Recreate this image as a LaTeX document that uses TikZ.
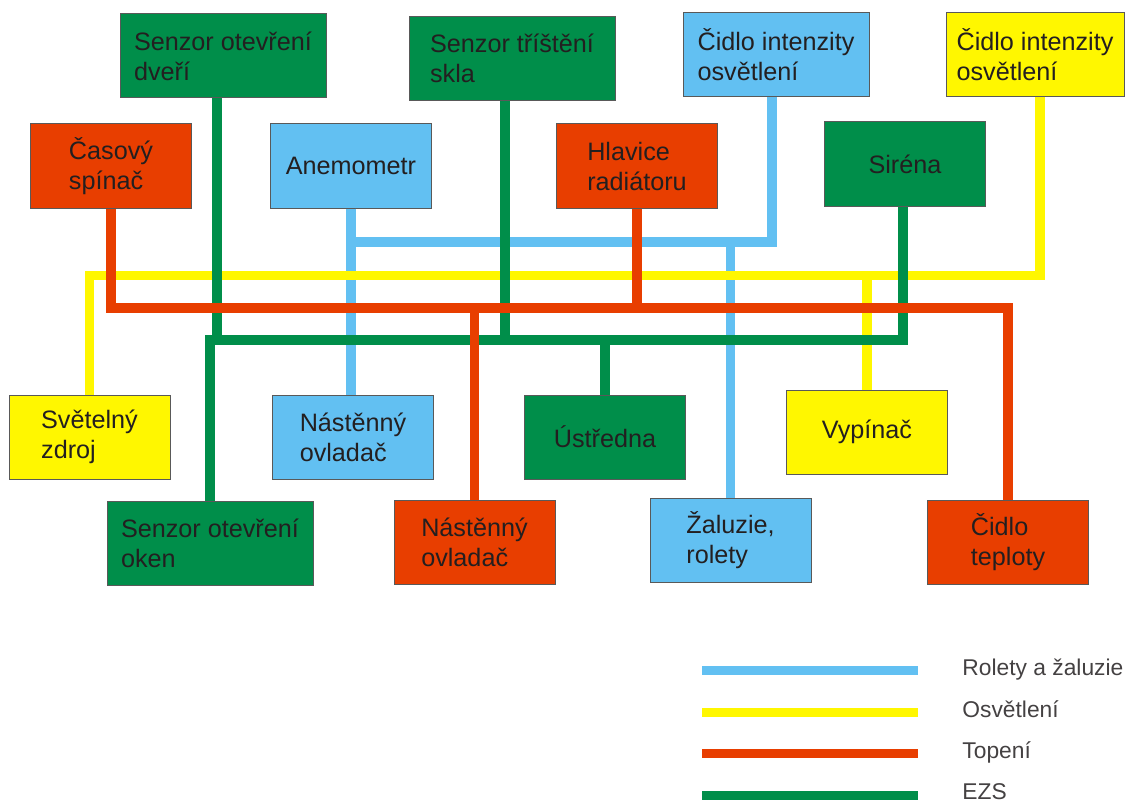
\documentclass[tikz,border=0pt]{standalone}
\usepackage{fontspec}
\setmainfont{Liberation Sans}
\definecolor{ezsgreen}{RGB}{0,142,74}
\definecolor{roletblue}{RGB}{98,192,242}
\definecolor{topred}{RGB}{232,62,0}
\definecolor{svetyellow}{RGB}{255,247,0}
\definecolor{textgray}{RGB}{35,31,32}
\tikzset{
  box/.style={draw=black!65, line width=0.5pt, minimum width=80.5pt, minimum height=42pt,
    inner sep=0pt, align=left, text=textgray, font=\fontsize{12.6}{15}\selectfont},
  widebox/.style={box, minimum width=103pt},
  wire/.style={line width=4.75pt},
  wb/.style={wire, draw=roletblue},
  wy/.style={wire, draw=svetyellow},
  wr/.style={wire, draw=topred},
  wg/.style={wire, draw=ezsgreen},
  legendline/.style={line width=4.25pt},
  legendtext/.style={anchor=base west, inner sep=0pt, text=textgray!85, font=\fontsize{11.4}{13}\selectfont}
}

\begin{document}
\begin{tikzpicture}[x=0.5pt, y=-0.5pt]
  \useasboundingbox (0,0) rectangle (1127,802);

  % top row
  \node [widebox, fill=ezsgreen] (dvere) at (223,56) {Senzor otevření\\dveří};
  \node [widebox, fill=ezsgreen] (sklo) at (512,58.5) {Senzor tříštění\\skla};
  \node [box, fill=roletblue, minimum width=93pt] (cidlob) at (776,55) {Čidlo intenzity\\osvětlení};
  \node [box, fill=svetyellow, minimum width=89pt] (cidloy) at (1035,55) {Čidlo intenzity\\osvětlení};

  \node [box, fill=topred] (casovy) at (111,166) {Časový\\spínač};
  \node [box, fill=roletblue] (anemo) at (351,166) {Anemometr};
  \node [box, fill=topred] (hlavice) at (637,166) {Hlavice\\radiátoru};
  \node [box, fill=ezsgreen] (sirena) at (905,164) {Siréna};

  % bottom rows
  \node [box, fill=svetyellow] (svetlo) at (89.5,437) {Světelný\\zdroj};
  \node [box, fill=roletblue] (nastenb) at (353,437) {Nástěnný\\ovladač};
  \node [box, fill=ezsgreen] (ustredna) at (605,437) {Ústředna};
  \node [box, fill=svetyellow] (vypinac) at (867,432) {Vypínač};

  \node [widebox, fill=ezsgreen] (oken) at (210,543) {Senzor otevření\\oken};
  \node [box, fill=topred] (nastenr) at (474.5,542) {Nástěnný\\ovladač};
  \node [box, fill=roletblue] (zaluzie) at (730.5,540) {Žaluzie,\\rolety};
  \node [box, fill=topred] (teplota) at (1008,542) {Čidlo\\teploty};

  % buses
  \coordinate (bbus) at (0,242);
  \coordinate (ybus) at (0,275.5);
  \coordinate (rbus) at (0,308);
  \coordinate (gbus) at (0,340);
  \coordinate (dvereout) at ([xshift=-3pt]dvere.south);
  \coordinate (skloout) at ([xshift=-3.5pt]sklo.south);

  % rolety a zaluzie
  \draw [wb] (anemo.south) -- (anemo.south |- nastenb.north);
  \draw [wb] (anemo.south |- bbus) -| ([xshift=-2pt]cidlob.south);
  \draw [wb] (zaluzie.north) -- (zaluzie.north |- bbus);

  % osvetleni
  \draw [wy] (svetlo.north) |- ([xshift=2.5pt]cidloy.south |- ybus) -- ([xshift=2.5pt]cidloy.south);
  \draw [wy] (vypinac.north) -- (vypinac.north |- ybus);

  % EZS
  \draw [wg] (oken.north) |- ([xshift=-1pt]sirena.south |- gbus) -- ([xshift=-1pt]sirena.south);
  \draw [wg] (dvereout) -- (dvereout |- gbus);
  \draw [wg] (skloout) -- (skloout |- gbus);
  \draw [wg] (ustredna.north) -- (ustredna.north |- gbus);

  % topeni
  \draw [wr] (casovy.south) |- (teplota.north |- rbus) -- (teplota.north);
  \draw [wr] (hlavice.south) -- (hlavice.south |- rbus);
  \draw [wr] (nastenr.north) -- (nastenr.north |- rbus);

  % legend
  \draw [legendline, roletblue] (702,670.5) -- (918,670.5);
  \draw [legendline, svetyellow] (702,712.5) -- (918,712.5);
  \draw [legendline, topred] (702,753.5) -- (918,753.5);
  \draw [legendline, ezsgreen] (702,795.5) -- (918,795.5);
  \node [legendtext] (lrolety) at (962,675) {Rolety a žaluzie};
  \node [legendtext] (lsvetlo) at (962,717) {Osvětlení};
  \node [legendtext] (ltopeni) at (962,758) {Topení};
  \node [legendtext] (lezs) at (962,799) {EZS};

\end{tikzpicture}
\end{document}
